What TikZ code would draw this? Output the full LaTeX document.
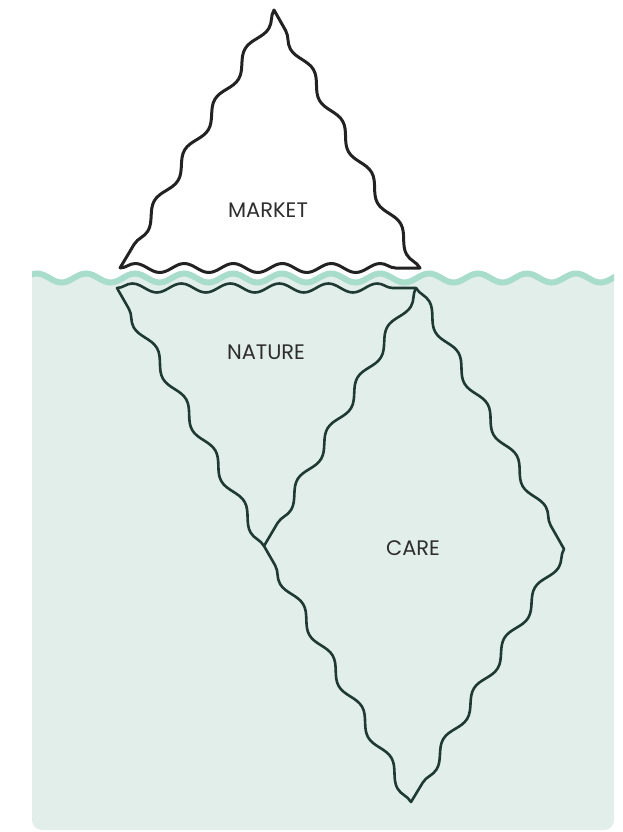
\documentclass[tikz,border=0pt]{standalone}
\usepackage{fontspec}
\setmainfont{Poppins}
\usepackage{xcolor}
\usetikzlibrary{decorations.pathmorphing}
\definecolor{seafill}{HTML}{E1EEEA}
\definecolor{seaedge}{HTML}{A8DCCB}
\definecolor{iceink}{HTML}{222222}
\definecolor{deepink}{HTML}{1E3A32}
\definecolor{tagink}{HTML}{2E2E2E}
\tikzset{
  wavy/.style={decoration={snake, segment length=49pt, amplitude=4.5pt}},
  slope/.style={decoration={snake, segment length=59pt, amplitude=5pt}},
  sea/.style={fill=seafill},
  surface/.style={draw=seaedge, line width=6pt},
  abovewater/.style={draw=iceink, line width=3pt, fill=white, line join=round},
  belowwater/.style={draw=deepink, line width=2.6pt, line join=round},
  tag/.style={font=\fontsize{21}{24}\selectfont, text=tagink}
}

\begin{document}
\begin{tikzpicture}[x=1pt, y=-1pt]
    \useasboundingbox (0,0) rectangle (623,832);
    \fill[white] (0,0) rectangle (623,832);

    % corners of the three shapes
    \coordinate (mL) at (120,268);
    \coordinate (mR) at (420,268);
    \coordinate (mT) at (274,10);
    \coordinate (nL) at (117,288);
    \coordinate (nR) at (416,288);
    \coordinate (cL) at (264,546);
    \coordinate (cR) at (564,549);
    \coordinate (cB) at (411,802);

    % sea
    \begin{scope}
        \clip[rounded corners=10pt] (32,230) rectangle (614,830);
        \fill[sea, wavy] (-27.25,278) decorate{-- (707.75,278)} -- (707.75,850) -- (-27.25,850) -- cycle;
        \draw[surface, wavy] (-27.25,278) decorate{-- (707.75,278)};
    \end{scope}

    % iceberg
    \filldraw[abovewater] (mL) decorate[wavy]{-- (mR)} decorate[slope]{-- (mT)} decorate[slope]{-- (mL)} -- cycle;
    \draw[belowwater] (nL) decorate[wavy]{-- (nR)} decorate[slope]{-- (cL)} decorate[slope]{-- (nL)} -- cycle;
    \draw[belowwater] (nR) decorate[slope]{-- (cR)} decorate[slope]{-- (cB)} decorate[slope]{-- (cL)};

    \node[tag] (market) at (268,210) {MARKET};
    \node[tag] (nature) at (266,352) {NATURE};
    \node[tag] (care) at (413,548) {CARE};
\end{tikzpicture}
\end{document}
